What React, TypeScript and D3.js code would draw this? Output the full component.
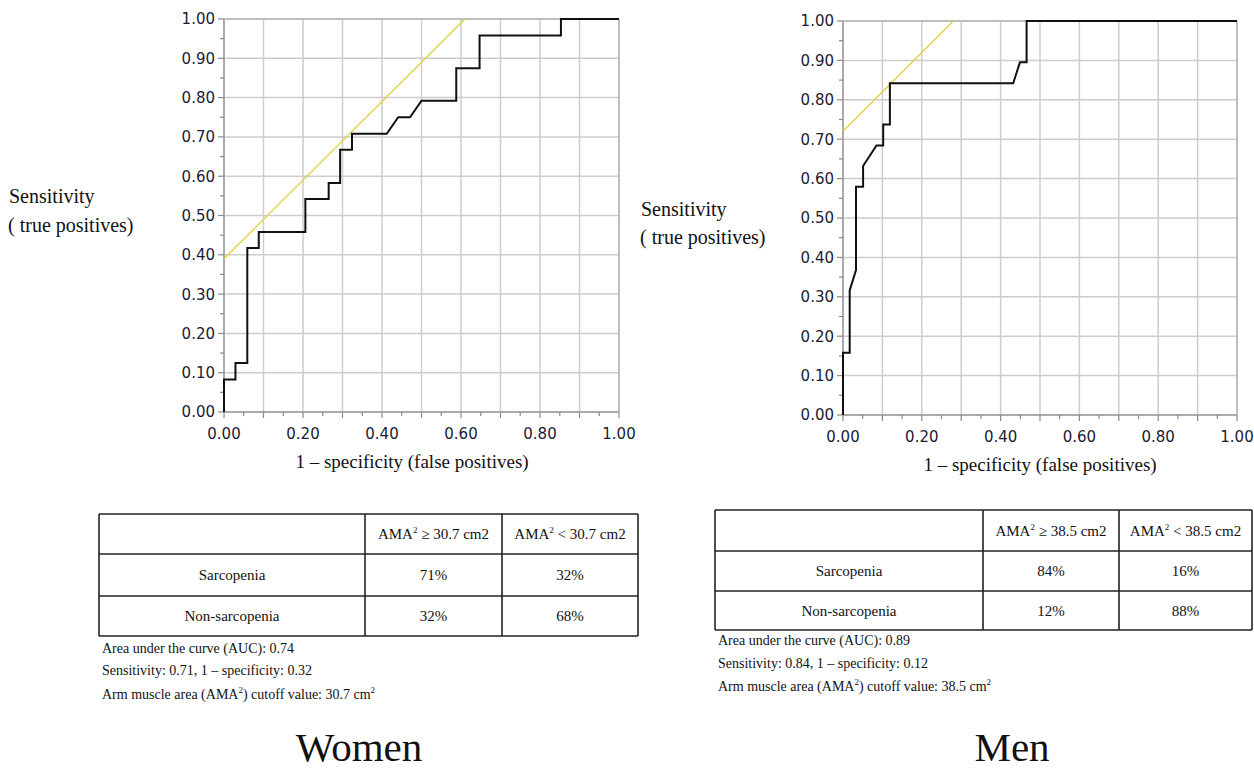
import React from 'react'
import * as d3 from 'd3'

// axis ticks
const gridTicks = [0, 0.1, 0.2, 0.3, 0.4, 0.5, 0.6, 0.7, 0.8, 0.9, 1.0]
const yLabelTicks = [0, 0.1, 0.2, 0.3, 0.4, 0.5, 0.6, 0.7, 0.8, 0.9, 1.0]
const xLabelTicks = [0, 0.2, 0.4, 0.6, 0.8, 1.0]
const minorTicks = [0.05, 0.15, 0.25, 0.35, 0.45, 0.55, 0.65, 0.75, 0.85, 0.95]

// ROC curve, women
const womenFpr = [0, 0, 0.029, 0.029, 0.059, 0.059, 0.088, 0.088, 0.206, 0.206, 0.265, 0.265, 0.294, 0.294, 0.324, 0.324, 0.412, 0.441, 0.471, 0.5, 0.588, 0.588, 0.647, 0.647, 0.853, 0.853, 1.0]
const womenTpr = [0, 0.083, 0.083, 0.125, 0.125, 0.417, 0.417, 0.458, 0.458, 0.542, 0.542, 0.583, 0.583, 0.667, 0.667, 0.708, 0.708, 0.75, 0.75, 0.792, 0.792, 0.875, 0.875, 0.958, 0.958, 1.0, 1.0]

// ROC curve, men
const menFpr = [0, 0, 0.017, 0.017, 0.033, 0.033, 0.051, 0.051, 0.085, 0.102, 0.102, 0.119, 0.119, 0.432, 0.449, 0.466, 0.466, 1.0]
const menTpr = [0, 0.158, 0.158, 0.316, 0.368, 0.579, 0.579, 0.632, 0.684, 0.684, 0.737, 0.737, 0.842, 0.842, 0.895, 0.895, 1.0, 1.0]

// cutoff point (1 - specificity, sensitivity)
const womenCutoff = [0.32, 0.71]
const menCutoff = [0.12, 0.84]

// tables
const rowLabels = ['Sarcopenia', 'Non-sarcopenia']
const womenCells = [['71%', '32%'], ['32%', '68%']]
const menCells = [['84%', '16%'], ['12%', '88%']]
const womenCutValue = '30.7'
const menCutValue = '38.5'
const womenAuc = '0.74'
const menAuc = '0.89'

const serif = '"Liberation Serif", "Times New Roman", serif'
const sans = '"DejaVu Sans", Verdana, sans-serif'

type PanelProps = {
  left: number; right: number; top: number; bottom: number
  fpr: number[]; tpr: number[]; cutoff: number[]
  titleX: number
}

const RocPanel = ({ left, right, top, bottom, fpr, tpr, cutoff, titleX }: PanelProps) => {
  const x = d3.scaleLinear().domain([0, 1]).range([left, right])
  const y = d3.scaleLinear().domain([0, 1]).range([bottom, top])
  const pts: [number, number][] = fpr.map((f, i) => [f, tpr[i]])
  const line = d3.line<[number, number]>().x(d => x(d[0])).y(d => y(d[1]))
  // tangent line of slope 1 through the cutoff point
  const b = cutoff[1] - cutoff[0]
  const tangent: [number, number][] = [[0, b], [1 - b, 1]]

  return (
    <g>
      {gridTicks.map(t => (
        <line key={'gx' + t} x1={x(t)} x2={x(t)} y1={y(0)} y2={y(1)} stroke="#cdcdcd" strokeWidth={1.5} />
      ))}
      {gridTicks.map(t => (
        <line key={'gy' + t} x1={x(0)} x2={x(1)} y1={y(t)} y2={y(t)} stroke="#cdcdcd" strokeWidth={1.5} />
      ))}
      <line x1={x(0)} x2={x(0)} y1={y(0)} y2={y(1)} stroke="#9a9a9a" strokeWidth={1.5} />
      <line x1={x(0)} x2={x(1)} y1={y(0)} y2={y(0)} stroke="#9a9a9a" strokeWidth={1.5} />
      <line x1={x(1)} x2={x(1)} y1={y(0)} y2={y(1)} stroke="#b5b5b5" strokeWidth={1.5} />
      <line x1={x(0)} x2={x(1)} y1={y(1)} y2={y(1)} stroke="#b5b5b5" strokeWidth={1.5} />

      {gridTicks.map(t => (
        <line key={'tx' + t} x1={x(t)} x2={x(t)} y1={y(0)} y2={y(0) + 6} stroke="#8a8a8a" strokeWidth={1.2} />
      ))}
      {minorTicks.map(t => (
        <line key={'mx' + t} x1={x(t)} x2={x(t)} y1={y(0)} y2={y(0) + 4} stroke="#8a8a8a" strokeWidth={1.2} />
      ))}
      {gridTicks.map(t => (
        <line key={'ty' + t} x1={x(0) - 6} x2={x(0)} y1={y(t)} y2={y(t)} stroke="#8a8a8a" strokeWidth={1.2} />
      ))}
      {minorTicks.map(t => (
        <line key={'my' + t} x1={x(0) - 4} x2={x(0)} y1={y(t)} y2={y(t)} stroke="#8a8a8a" strokeWidth={1.2} />
      ))}

      {yLabelTicks.map(t => (
        <text key={'ly' + t} x={x(0) - 9} y={y(t)} dy="0.36em" textAnchor="end"
          fontFamily={sans} fontSize={15} fill="#1b1b33">{t.toFixed(2)}</text>
      ))}
      {xLabelTicks.map(t => (
        <text key={'lx' + t} x={x(t)} y={y(0) + 27} textAnchor="middle"
          fontFamily={sans} fontSize={15} fill="#1b1b33">{t.toFixed(2)}</text>
      ))}
      <text x={titleX} y={y(0) + 56} textAnchor="middle" fontFamily={serif} fontSize={19} fill="#111">
        1 – specificity (false positives)
      </text>

      <path d={line(tangent) || ''} fill="none" stroke="#e2d23c" strokeWidth={1.4} />
      <path d={line(pts) || ''} fill="none" stroke="#111" strokeWidth={2} />
    </g>
  )
}

type TableProps = {
  left: number; c1: number; c2: number; right: number; rows: number[]
  cells: string[][]; cut: string; auc: string; cutoff: number[]; noteY: number[]
}

const StatTable = ({ left, c1, c2, right, rows, cells, cut, auc, cutoff, noteY }: TableProps) => {
  const mid = (a: number, b: number) => (a + b) / 2
  const cols = [left, c1, c2, right]
  const header = (sym: string) => (
    <>
      <tspan>AMA</tspan>
      <tspan dy={-6} fontSize={9}>2</tspan>
      <tspan dy={6}>{' ' + sym + ' ' + cut + ' cm2'}</tspan>
    </>
  )
  return (
    <g fontFamily={serif} fill="#111">
      {rows.map((r, i) => (
        <line key={'r' + i} x1={left} x2={right} y1={r} y2={r} stroke="#222" strokeWidth={1.6} />
      ))}
      {cols.map((c, i) => (
        <line key={'c' + i} x1={c} x2={c} y1={rows[0]} y2={rows[3]} stroke="#222" strokeWidth={1.6} />
      ))}
      <text x={mid(c1, c2)} y={mid(rows[0], rows[1])} dy="0.35em" textAnchor="middle" fontSize={15}>{header('≥')}</text>
      <text x={mid(c2, right)} y={mid(rows[0], rows[1])} dy="0.35em" textAnchor="middle" fontSize={15}>{header('<')}</text>
      {rowLabels.map((lab, i) => (
        <g key={lab}>
          <text x={mid(left, c1)} y={mid(rows[i + 1], rows[i + 2])} dy="0.35em" textAnchor="middle" fontSize={15}>{lab}</text>
          <text x={mid(c1, c2)} y={mid(rows[i + 1], rows[i + 2])} dy="0.35em" textAnchor="middle" fontSize={15}>{cells[i][0]}</text>
          <text x={mid(c2, right)} y={mid(rows[i + 1], rows[i + 2])} dy="0.35em" textAnchor="middle" fontSize={15}>{cells[i][1]}</text>
        </g>
      ))}
      <text x={left + 3} y={noteY[0]} dy="0.35em" fontSize={14}>{'Area under the curve (AUC): ' + auc}</text>
      <text x={left + 3} y={noteY[1]} dy="0.35em" fontSize={14}>
        {'Sensitivity: ' + cutoff[1].toFixed(2) + ', 1 – specificity: ' + cutoff[0].toFixed(2)}
      </text>
      <text x={left + 3} y={noteY[2]} dy="0.35em" fontSize={14}>
        <tspan>Arm muscle area (AMA</tspan>
        <tspan dy={-6} fontSize={9}>2</tspan>
        <tspan dy={6}>{') cutoff value: ' + cut + ' cm'}</tspan>
        <tspan dy={-6} fontSize={9}>2</tspan>
      </text>
    </g>
  )
}

const App = () => {
  return (
    <svg width={1254} height={771} style={{ position: 'absolute', left: 0, top: 0, background: '#fff' }}>
      <rect width={1254} height={771} fill="#fff" />

      <text x={9} y={203} fontFamily={serif} fontSize={20} fill="#111">Sensitivity</text>
      <text x={8} y={232} fontFamily={serif} fontSize={20} fill="#111">( true positives)</text>
      <RocPanel left={224} right={619} top={19} bottom={412}
        fpr={womenFpr} tpr={womenTpr} cutoff={womenCutoff} titleX={412} />

      <text x={641} y={216} fontFamily={serif} fontSize={20} fill="#111">Sensitivity</text>
      <text x={640} y={244} fontFamily={serif} fontSize={20} fill="#111">( true positives)</text>
      <RocPanel left={843} right={1237} top={21} bottom={415}
        fpr={menFpr} tpr={menTpr} cutoff={menCutoff} titleX={1040} />

      <StatTable left={99} c1={365} c2={502} right={638} rows={[514, 554, 596, 636]}
        cells={womenCells} cut={womenCutValue} auc={womenAuc} cutoff={womenCutoff} noteY={[648, 670, 694]} />
      <StatTable left={715} c1={983} c2={1119} right={1252} rows={[510, 551, 591, 630]}
        cells={menCells} cut={menCutValue} auc={menAuc} cutoff={menCutoff} noteY={[640, 663, 686]} />

      <text x={359} y={761} textAnchor="middle" fontFamily={serif} fontSize={41} fill="#111">Women</text>
      <text x={1012} y={761} textAnchor="middle" fontFamily={serif} fontSize={41} fill="#111">Men</text>
    </svg>
  )
}

export default App
